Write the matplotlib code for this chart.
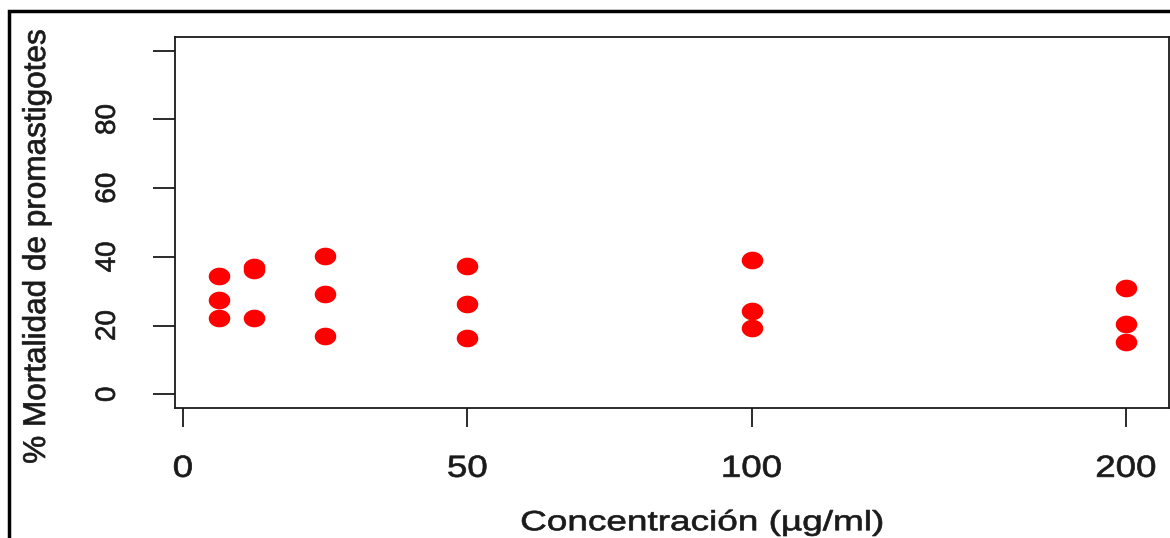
import numpy as np
import matplotlib
matplotlib.use("Agg")
import matplotlib.pyplot as plt
from matplotlib.patches import Rectangle
from matplotlib.path import Path
from matplotlib.patheffects import AbstractPathEffect
from matplotlib.transforms import Affine2D

# concentration (ug/ml) and % mortality, three replicates each
conc = [6.25, 6.25, 6.25, 12.5, 12.5, 12.5, 25, 25, 25, 50, 50, 50, 100, 100, 100, 200, 200, 200]
mortality = [34.4, 27.4, 22.1, 36.2, 37.0, 22.1, 40.2, 29.1, 16.9,
             37.3, 26.2, 16.3, 39.0, 24.2, 19.2, 30.9, 20.4, 15.1]

x_ticks = [0, 50, 100, 200]
y_ticks = [0, 20, 40, 60, 80, 100]
y_tick_labels = ["0", "20", "40", "60", "80", ""]

# axis above 100 is compressed in the original figure
K = 0.658


def fwd(x):
    x = np.asarray(x, dtype=float)
    return np.where(x <= 100, x, 100 + (x - 100) * K)


def inv(y):
    y = np.asarray(y, dtype=float)
    return np.where(y <= 100, y, 100 + (y - 100) / K)


class HStretch(AbstractPathEffect):
    """ stretch text horizontally around its centre (the source image is widened),
        plus a thin stroke so the glyphs look as heavy as in the reference """
    def __init__(self, sx=1.0, lw=0.5):
        super().__init__()
        self.sx = sx
        self.lw = lw

    def draw_path(self, renderer, gc, tpath, affine, rgbFace=None):
        ext = tpath.get_extents(affine)
        cx = (ext.x0 + ext.x1) / 2
        t = affine + Affine2D().translate(-cx, 0).scale(self.sx, 1).translate(cx, 0)
        gc0 = renderer.new_gc()
        gc0.copy_properties(gc)
        gc0.set_linewidth(self.lw)
        gc0.set_foreground(rgbFace)
        renderer.draw_path(gc0, tpath, t, rgbFace)
        gc0.restore()


# slightly flattened dot, as in the reference
th = np.linspace(0, 2 * np.pi, 60)
dot = Path(np.column_stack([np.cos(th), np.sin(th) / 1.22]), closed=True)

plt.rcParams['font.family'] = ['Liberation Sans', 'DejaVu Sans']
TXT = '#1a1a1a'

W, H = 1170, 538
fig = plt.figure(figsize=(W / 100, H / 100), dpi=100)
ax = fig.add_axes([175 / W, 1 - 408 / H, (1169 - 175) / W, (408 - 37) / H])

ax.set_xscale('function', functions=(fwd, inv))
ax.plot(conc, mortality, linestyle='none', marker=dot, color='#ff0000',
        markersize=15.5, markeredgewidth=0)

ax.set_xlim(-1.4, 211.5)
ax.set_ylim(-4, 104)
ax.set_xticks(x_ticks)
ax.set_xticklabels([str(t) for t in x_ticks])
ax.set_yticks(y_ticks)
ax.set_yticklabels(y_tick_labels, rotation=90, va='center')
ax.minorticks_off()

ax.tick_params(axis='x', length=14, width=1.3, pad=19, labelsize=22, colors=TXT)
ax.tick_params(axis='y', length=16, width=1.3, pad=23, labelsize=20, colors=TXT)
for s in ax.spines.values():
    s.set_linewidth(1.3)
    s.set_color(TXT)

for lab in ax.get_xticklabels():
    lab.set_path_effects([HStretch(1.2)])
for lab in ax.get_yticklabels():
    lab.set_path_effects([HStretch(1.0)])

ax.set_xlabel("Concentración (µg/ml)", fontsize=20, color=TXT, labelpad=19,
              path_effects=[HStretch(1.33)])
ax.xaxis.label.set_x((702 - 175) / 994)  # label sits a bit right of the box centre
ax.set_ylabel("% Mortalidad de promastigotes", fontsize=22.7, color=TXT,
              path_effects=[HStretch(1.0)])
ax.yaxis.set_label_coords((52 - 175) / 994, (408 - 246) / 371)

# outer frame of the figure
fig.patches.append(Rectangle((9 / W, -0.05), 1.2, 1 - 11 / H + 0.05, transform=fig.transFigure,
                             fill=False, edgecolor='black', linewidth=2.5))

fig.savefig("out.png", dpi=100)
